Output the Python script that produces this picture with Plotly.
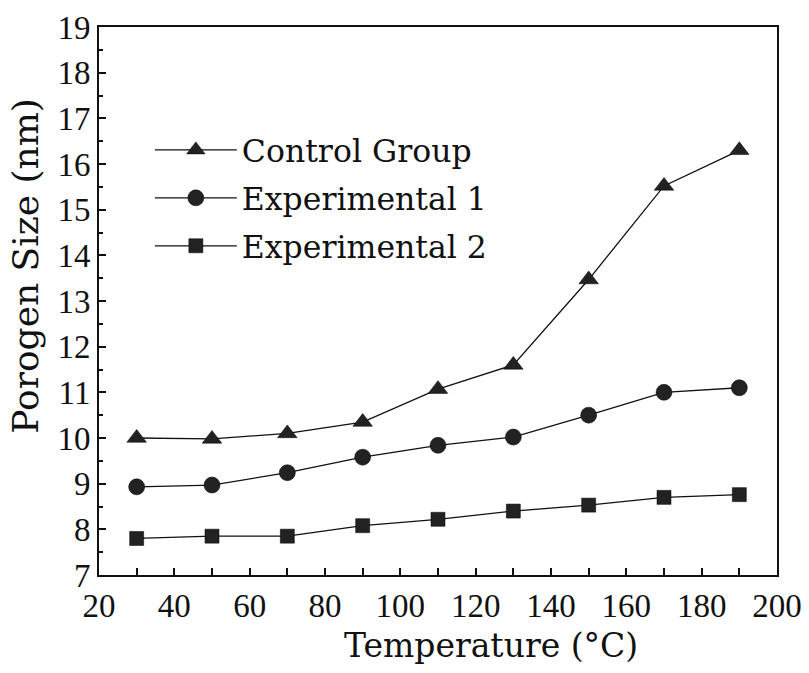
import plotly.graph_objects as go

temps = [30, 50, 70, 90, 110, 130, 150, 170, 190]
control = [10.0, 9.98, 10.1, 10.35, 11.07, 11.6, 13.47, 15.52, 16.3]
exp1 = [8.93, 8.97, 9.24, 9.58, 9.84, 10.02, 10.5, 11.0, 11.1]
exp2 = [7.8, 7.85, 7.85, 8.08, 8.22, 8.4, 8.53, 8.7, 8.76]

names = ["Control Group", "Experimental 1", "Experimental 2"]
symbols = ["triangle-up", "circle", "square"]
sizes = [17, 16, 14]
series = [control, exp1, exp2]

x_title = "Temperature (°C)"
y_title = "Porogen Size (nm)"

fig = go.Figure()
for name, ys, sym, sz in zip(names, series, symbols, sizes):
    fig.add_trace(go.Scatter(
        x=temps, y=ys, name=name, mode="lines+markers", legendgroup=name,
        line=dict(color="#111111", width=1.3),
        marker=dict(symbol=sym, size=sz, color="#222222",
                    line=dict(color="#000000", width=0.5)),
    ))

tick_font = dict(family="Liberation Serif", size=33, color="#111111")
title_family = "DejaVu Serif"
fig.update_layout(
    width=809, height=673,
    margin=dict(l=99, r=32, t=27, b=98, autoexpand=False),
    paper_bgcolor="white", plot_bgcolor="white",
    font=dict(family="Liberation Serif", color="#111111"),
    legend=dict(x=0.075, y=0.825, xanchor="left", yanchor="top",
                bgcolor="rgba(0,0,0,0)", itemwidth=82,
                font=dict(family=title_family, size=31.5, color="#111111"),
                tracegroupgap=4),
    showlegend=True,
)
fig.add_annotation(text=x_title, xref="paper", yref="paper", x=0.578, y=-0.128,
                   xanchor="center", yanchor="middle", showarrow=False,
                   font=dict(family=title_family, size=33, color="#111111"))
fig.add_annotation(text=y_title, xref="paper", yref="paper", x=-0.108, y=0.564,
                   xanchor="center", yanchor="middle", showarrow=False, textangle=-90,
                   font=dict(family=title_family, size=36, color="#111111"))
fig.update_xaxes(
    range=[20, 200], dtick=20, tick0=20, ticks="inside", ticklen=7, tickwidth=1.5,
    tickcolor="#111111", automargin=False,
    minor=dict(dtick=10, ticks="inside", ticklen=7, tickcolor="#111111", showgrid=False),
    showline=True, linecolor="#111111", linewidth=2, mirror=True, showgrid=False,
    zeroline=False, tickfont=tick_font,
)
fig.update_yaxes(
    range=[7, 19], dtick=1, tick0=7, ticks="inside", ticklen=7, tickwidth=1.5,
    tickcolor="#111111", automargin=False,
    minor=dict(dtick=0.5, ticks="inside", ticklen=4, tickcolor="#111111", showgrid=False),
    showline=True, linecolor="#111111", linewidth=2, mirror=True, showgrid=False,
    zeroline=False, tickfont=tick_font,
)
fig.write_html("out.html")
